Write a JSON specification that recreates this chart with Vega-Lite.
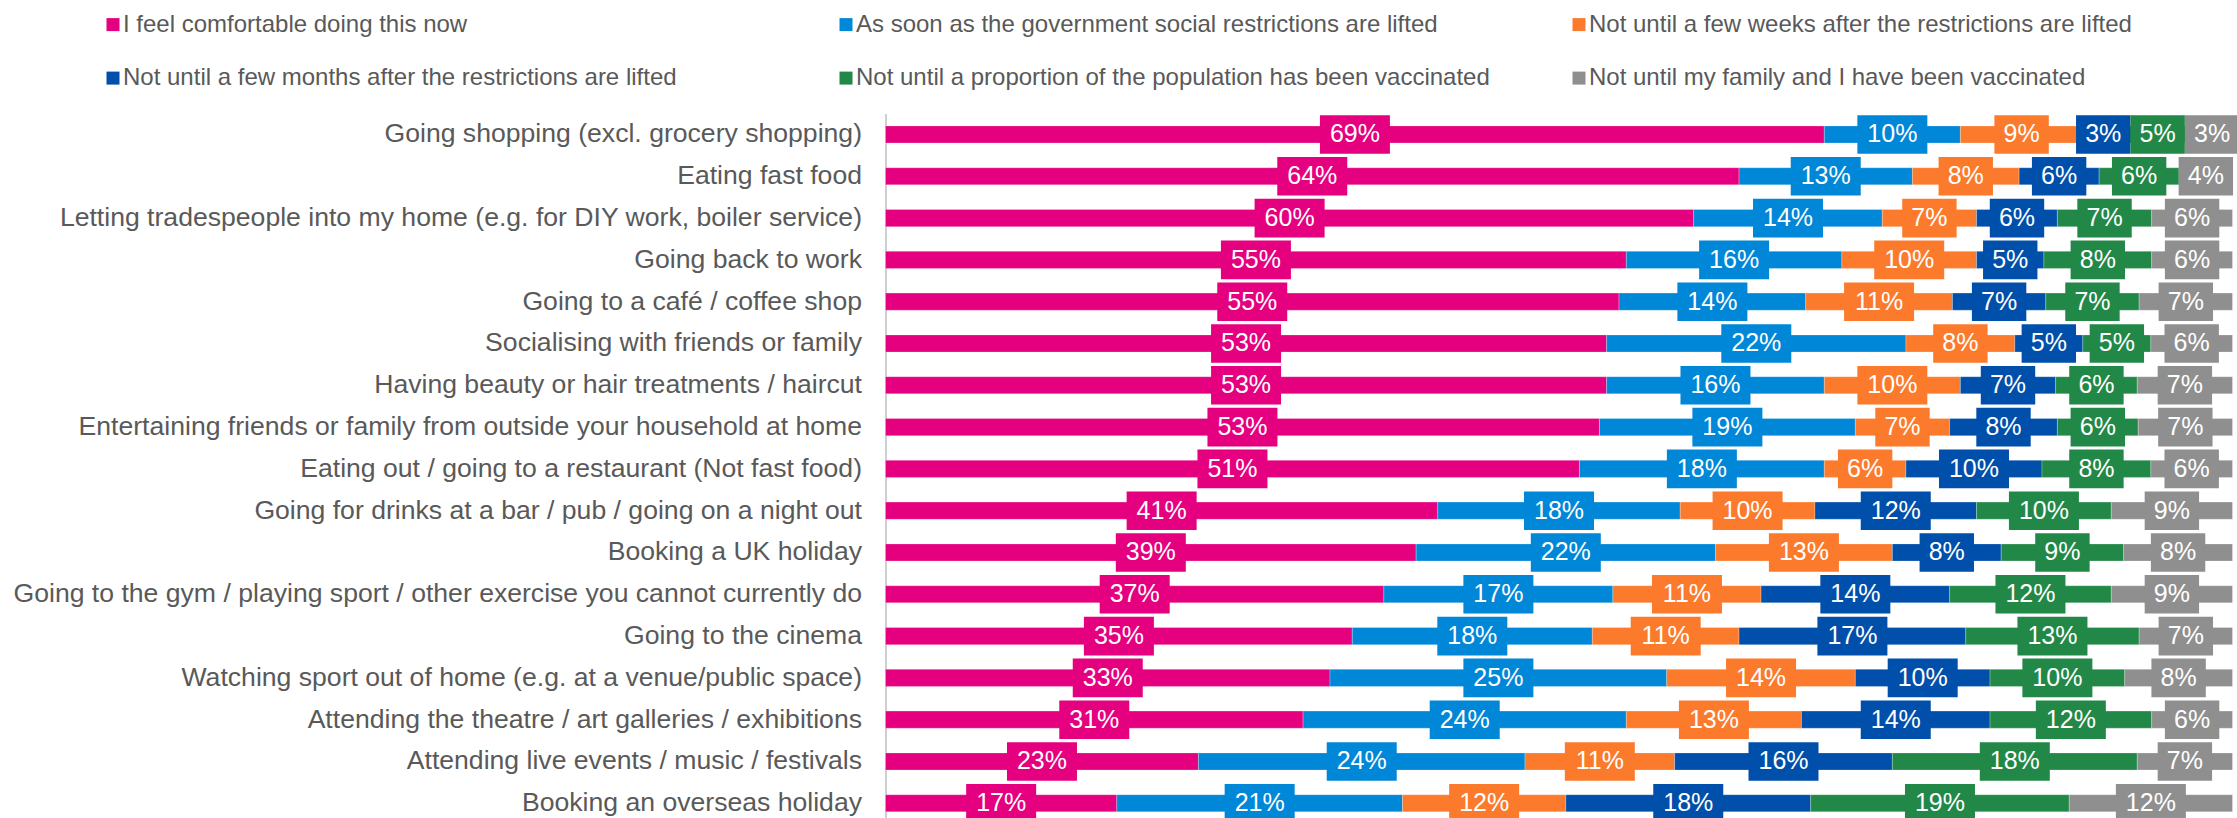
{
  "$schema": "https://vega.github.io/schema/vega-lite/v6.json",
  "width": 1347,
  "height": 704.4,
  "autosize": {"type": "none"},
  "padding": {"left": 885.5, "top": 113.6, "right": 4.5, "bottom": 0},
  "background": "white",
  "config": {"view": {"stroke": null}},
  "datasets": {
    "series": [
      {"key": "v1", "s": "I feel comfortable doing this now"},
      {"key": "v2", "s": "As soon as the government social restrictions are lifted"},
      {"key": "v3", "s": "Not until a few weeks after the restrictions are lifted"},
      {"key": "v4", "s": "Not until a few months after the restrictions are lifted"},
      {"key": "v5", "s": "Not until a proportion of the population has been vaccinated"},
      {"key": "v6", "s": "Not until my family and I have been vaccinated"}
    ],
    "rows": [
      {"a": "Going shopping (excl. grocery shopping)", "v1": 0.69, "v2": 0.10, "v3": 0.09, "v4": 0.03, "v5": 0.05, "v6": 0.03},
      {"a": "Eating fast food", "v1": 0.64, "v2": 0.13, "v3": 0.08, "v4": 0.06, "v5": 0.06, "v6": 0.04},
      {"a": "Letting tradespeople into my home (e.g. for DIY work, boiler service)", "v1": 0.60, "v2": 0.14, "v3": 0.07, "v4": 0.06, "v5": 0.07, "v6": 0.06},
      {"a": "Going back to work", "v1": 0.55, "v2": 0.16, "v3": 0.10, "v4": 0.05, "v5": 0.08, "v6": 0.06},
      {"a": "Going to a café / coffee shop", "v1": 0.55, "v2": 0.14, "v3": 0.11, "v4": 0.07, "v5": 0.07, "v6": 0.07},
      {"a": "Socialising with friends or family", "v1": 0.53, "v2": 0.22, "v3": 0.08, "v4": 0.05, "v5": 0.05, "v6": 0.06},
      {"a": "Having beauty or hair treatments / haircut", "v1": 0.53, "v2": 0.16, "v3": 0.10, "v4": 0.07, "v5": 0.06, "v6": 0.07},
      {"a": "Entertaining friends or family from outside your household at home", "v1": 0.53, "v2": 0.19, "v3": 0.07, "v4": 0.08, "v5": 0.06, "v6": 0.07},
      {"a": "Eating out / going to a restaurant (Not fast food)", "v1": 0.51, "v2": 0.18, "v3": 0.06, "v4": 0.10, "v5": 0.08, "v6": 0.06},
      {"a": "Going for drinks at a bar / pub / going on a night out", "v1": 0.41, "v2": 0.18, "v3": 0.10, "v4": 0.12, "v5": 0.10, "v6": 0.09},
      {"a": "Booking a UK holiday", "v1": 0.39, "v2": 0.22, "v3": 0.13, "v4": 0.08, "v5": 0.09, "v6": 0.08},
      {"a": "Going to the gym / playing sport / other exercise you cannot currently do", "v1": 0.37, "v2": 0.17, "v3": 0.11, "v4": 0.14, "v5": 0.12, "v6": 0.09},
      {"a": "Going to the cinema", "v1": 0.35, "v2": 0.18, "v3": 0.11, "v4": 0.17, "v5": 0.13, "v6": 0.07},
      {"a": "Watching sport out of home (e.g. at a venue/public space)", "v1": 0.33, "v2": 0.25, "v3": 0.14, "v4": 0.10, "v5": 0.10, "v6": 0.08},
      {"a": "Attending the theatre / art galleries / exhibitions", "v1": 0.31, "v2": 0.24, "v3": 0.13, "v4": 0.14, "v5": 0.12, "v6": 0.06},
      {"a": "Attending live events / music / festivals", "v1": 0.23, "v2": 0.24, "v3": 0.11, "v4": 0.16, "v5": 0.18, "v6": 0.07},
      {"a": "Booking an overseas holiday", "v1": 0.17, "v2": 0.21, "v3": 0.12, "v4": 0.18, "v5": 0.19, "v6": 0.12}
    ]
  },
  "data": {"name": "rows"},
  "transform": [
    {"fold": ["v1", "v2", "v3", "v4", "v5", "v6"], "as": ["key", "v"]},
    {"lookup": "key", "from": {"data": {"name": "series"}, "key": "key", "fields": ["s"]}}
  ],
  "encoding": {
    "y": {
      "field": "a", "type": "nominal", "sort": null,
      "scale": {"paddingInner": 0.59, "paddingOuter": 0.221, "align": 0.667},
      "axis": {"title": null, "ticks": false, "domainColor": "#BFBFBF", "domainWidth": 1.5, "labelFontSize": 26.6, "labelColor": "#595959", "labelFont": "Liberation Sans", "labelPadding": 24, "labelLimit": 0}
    },
    "x": {"field": "v", "type": "quantitative", "stack": "normalize", "scale": {"domain": [0, 1]}, "axis": null},
    "color": {
      "field": "s", "type": "nominal",
      "scale": {
        "domain": ["I feel comfortable doing this now", "As soon as the government social restrictions are lifted", "Not until a few weeks after the restrictions are lifted", "Not until a few months after the restrictions are lifted", "Not until a proportion of the population has been vaccinated", "Not until my family and I have been vaccinated"],
        "range": ["#E4007F", "#0087D7", "#FC7A2C", "#004FAA", "#228847", "#8F8F8F"]
      },
      "legend": {"title": null, "orient": "none", "legendX": -784.5, "legendY": -101, "direction": "horizontal", "columns": 3, "gridAlign": "all", "columnPadding": 77, "rowPadding": 29.5, "symbolType": "square", "symbolSize": 169, "symbolStrokeWidth": 0, "symbolOpacity": 1, "labelFontSize": 24, "labelFont": "Liberation Sans", "labelColor": "#595959", "labelLimit": 0, "labelOffset": -2, "padding": 0}
    },
    "order": {"field": "key"}
  },
  "layer": [
    {"mark": {"type": "bar", "stroke": "#ffffff", "strokeWidth": 0.5, "strokeOpacity": 0.5}},
    {
      "mark": {"type": "point", "filled": true, "opacity": 1, "size": 400, "strokeWidth": 0},
      "encoding": {
        "x": {"field": "v", "type": "quantitative", "stack": "normalize", "bandPosition": 0.5, "axis": null},
        "shape": {"condition": {"test": "datum.v >= 0.095", "value": "M-3.5,-1.93H3.5V1.93H-3.5Z"}, "value": "M-2.72,-1.93H2.72V1.93H-2.72Z"}
      }
    },
    {
      "mark": {"type": "text", "fontSize": 25, "font": "Liberation Sans", "baseline": "middle", "align": "center"},
      "encoding": {
        "x": {"field": "v", "type": "quantitative", "stack": "normalize", "bandPosition": 0.5, "axis": null},
        "text": {"field": "v", "type": "quantitative", "format": ".0%"},
        "color": {"value": "#ffffff"}
      }
    }
  ]
}
